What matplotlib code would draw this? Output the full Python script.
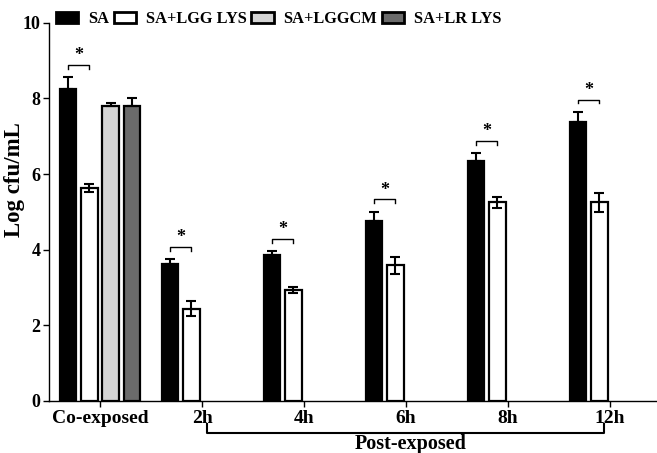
import numpy as np
import matplotlib
matplotlib.use('Agg')
import matplotlib.pyplot as plt

# data
groups = ['Co-exposed', '2h', '4h', '6h', '8h', '12h']
series = ['SA', 'SA+LGG LYS', 'SA+LGGCM', 'SA+LR LYS']
sa = [8.25, 3.61, 3.87, 4.75, 6.34, 7.37]
sa_err = [0.31, 0.13, 0.08, 0.25, 0.21, 0.27]
lgg = [5.63, 2.43, 2.92, 3.58, 5.25, 5.25]
lgg_err = [0.10, 0.20, 0.08, 0.22, 0.15, 0.26]
lggcm = [7.79]
lggcm_err = [0.10]
lr = [7.79]
lr_err = [0.23]

colors = ['black', 'white', '#d4d4d4', '#6b6b6b']

plt.rcParams['font.family'] = ['Liberation Serif', 'DejaVu Serif']
plt.rcParams['font.weight'] = 'bold'

fig = plt.figure(figsize=(6.57, 4.53), dpi=100)
ax = fig.add_axes([0.0746, 0.1154, 0.9315, 0.834])

x = np.arange(len(groups))
w = 0.162
step = 0.21
offsets = [-1.5 * step, -0.5 * step, 0.5 * step, 1.5 * step]
vals = [sa, lgg, lggcm, lr]
errs = [sa_err, lgg_err, lggcm_err, lr_err]

handles = []
for i in range(4):
    xs = x[:len(vals[i])] + offsets[i]
    b = ax.bar(xs, vals[i], width=w, color=colors[i], edgecolor='black',
               linewidth=1.6, label=series[i], zorder=2)
    handles.append(b)
    lower = errs[i] if i == 1 else [0] * len(errs[i])
    ax.errorbar(xs, vals[i], yerr=[lower, errs[i]], fmt='none', ecolor='black',
                elinewidth=1.5, capsize=3.5, capthick=1.5, zorder=3)

# significance brackets between SA and SA+LGG LYS
for j in range(len(groups)):
    top = sa[j] + sa_err[j] + 0.33
    x1 = x[j] + offsets[0]
    x2 = x[j] + offsets[1]
    ax.plot([x1, x1, x2, x2], [top - 0.1, top, top, top - 0.1], color='black', lw=1.0)
    ax.text((x1 + x2) / 2, top + 0.02, '*', ha='center', va='bottom', fontsize=13,
            fontweight='bold')

ax.set_xlim(-0.5, 5.5)
ax.set_ylim(0, 10)
ax.set_yticks([0, 2, 4, 6, 8, 10])
ax.set_xticks(x)
ax.set_xticklabels(groups)
ax.tick_params(axis='y', labelsize=13, width=1, length=4, pad=2)
ax.tick_params(axis='x', labelsize=14, width=1, length=4, pad=3)
for t in ax.get_xticklabels() + ax.get_yticklabels():
    t.set_fontweight('bold')
ax.spines['top'].set_visible(False)
ax.spines['right'].set_visible(False)
ax.spines['left'].set_linewidth(1.0)
ax.spines['bottom'].set_linewidth(1.0)
ax.set_ylabel('Log cfu/mL', fontsize=16.5, fontweight='bold')
ax.yaxis.set_label_coords(-0.04, 0.585)

# post-exposed bracket below the axis
trans = ax.get_xaxis_transform()
xa = x[1] + 0.05
xb = x[5] - 0.06
ya = -0.085
yb = -0.062
ax.plot([xa, xa, xb, xb], [yb, ya, ya, yb], color='black', lw=1.5,
        transform=trans, clip_on=False)
ax.text((xa + xb) / 2 + 0.05, ya - 0.003, 'Post-exposed', transform=trans,
        ha='center', va='top', fontsize=14.5, fontweight='bold')

leg = ax.legend(handles=handles, loc='upper left', bbox_to_anchor=(0.08, 0.983),
                bbox_transform=fig.transFigure, ncol=4, frameon=False,
                fontsize=11.8, handlelength=1.35, handleheight=0.62,
                handletextpad=0.6, columnspacing=0.3, borderaxespad=0,
                borderpad=0.2)
for h in leg.legend_handles:
    h.set_linewidth(2.0)

fig.savefig('out.png', dpi=100)
